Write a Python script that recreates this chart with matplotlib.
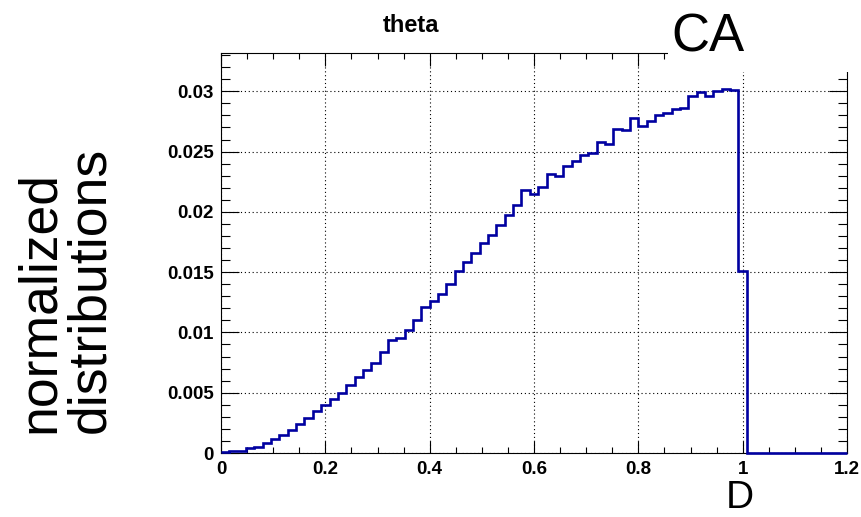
import numpy as np
import matplotlib
matplotlib.use("Agg")
from matplotlib import pyplot as plt
from matplotlib.patches import Rectangle
from matplotlib.ticker import MultipleLocator, FuncFormatter

# histogram "theta": 75 bins over 0..1.2 (bin width 0.016)
bin_lo = 0.0
bin_hi = 1.2
n_bins = 75
theta_counts = [
    0.00005, 0.0002, 0.0002, 0.00045, 0.0005, 0.0008, 0.0012, 0.0015,
    0.0019, 0.0024, 0.0029, 0.0035, 0.0040, 0.0045, 0.0050, 0.0056,
    0.0063, 0.0069, 0.0075, 0.0084, 0.0094, 0.0095, 0.0102, 0.0110,
    0.0121, 0.0126, 0.0132, 0.0140, 0.0151, 0.0158, 0.0166, 0.0174,
    0.0181, 0.0189, 0.0197, 0.0206, 0.0218, 0.0215, 0.0221, 0.0231,
    0.0230, 0.0238, 0.0242, 0.0247, 0.0249, 0.0258, 0.0256, 0.0269,
    0.0268, 0.0278, 0.0271, 0.0275, 0.0280, 0.0282, 0.0285, 0.0286,
    0.0296, 0.0299, 0.0296, 0.0300, 0.0302, 0.0301, 0.0151,
    0, 0, 0, 0, 0, 0, 0, 0, 0, 0, 0, 0,
]
y_max = 0.0332

plt.rcParams['font.family'] = ['Liberation Sans', 'DejaVu Sans']

W, H = 862, 517
fig = plt.figure(figsize=(W / 100, H / 100), dpi=100)
ax = fig.add_axes([221 / W, 1 - 453 / H, (847 - 221) / W, (453 - 52.7) / H])

edges = np.linspace(bin_lo, bin_hi, n_bins + 1)
ax.stairs(theta_counts, edges, color='#0000a0', lw=1.9, baseline=None,
          zorder=5, clip_on=False)

ax.set_xlim(bin_lo, bin_hi)
ax.set_ylim(0, y_max)

ax.xaxis.set_major_locator(MultipleLocator(0.2))
ax.xaxis.set_minor_locator(MultipleLocator(0.05))
ax.yaxis.set_major_locator(MultipleLocator(0.005))
ax.yaxis.set_minor_locator(MultipleLocator(0.001))
ax.xaxis.set_major_formatter(FuncFormatter(lambda v, p: '%g' % round(v, 4)))
ax.yaxis.set_major_formatter(FuncFormatter(lambda v, p: '%g' % round(v, 4)))

ax.tick_params(axis='both', which='both', direction='in', top=True, right=True,
               width=0.8, color='black')
ax.tick_params(axis='x', which='major', length=9, pad=6, labelsize=13.5)
ax.tick_params(axis='x', which='minor', length=4.5)
ax.tick_params(axis='y', which='major', length=13, pad=5, labelsize=13.5)
ax.tick_params(axis='y', which='minor', length=6.5)
for lab in ax.get_xticklabels() + ax.get_yticklabels():
    lab.set_fontweight('bold')

ax.grid(True, which='major', color='black', linestyle=(0, (1, 2.5)), lw=0.8)
for s in ax.spines.values():
    s.set_linewidth(0.8)

# title and labels
fig.text(411 / W, 1 - 32 / H, 'theta', ha='center', va='baseline',
         fontsize=17, fontweight='bold')
fig.text(740 / W, 1 - 508 / H, 'D', ha='center', va='baseline', fontsize=28)
fig.text(15 / W, 1 - 433 / H, 'normalized\ndistributions', rotation=90,
         ha='left', va='bottom', multialignment='left', fontsize=38.5,
         linespacing=1.0)

# white box with "CA" over the top right corner
fig.patches.append(Rectangle((668 / W, 1 - 72 / H), 1 - 668 / W, 72 / H,
                             transform=fig.transFigure, facecolor='white',
                             edgecolor='none', zorder=3))
fig.text(708 / W, 1 - 52 / H, 'CA', ha='center', va='baseline', fontsize=38,
         zorder=4)

fig.savefig('out.png', dpi=100)
